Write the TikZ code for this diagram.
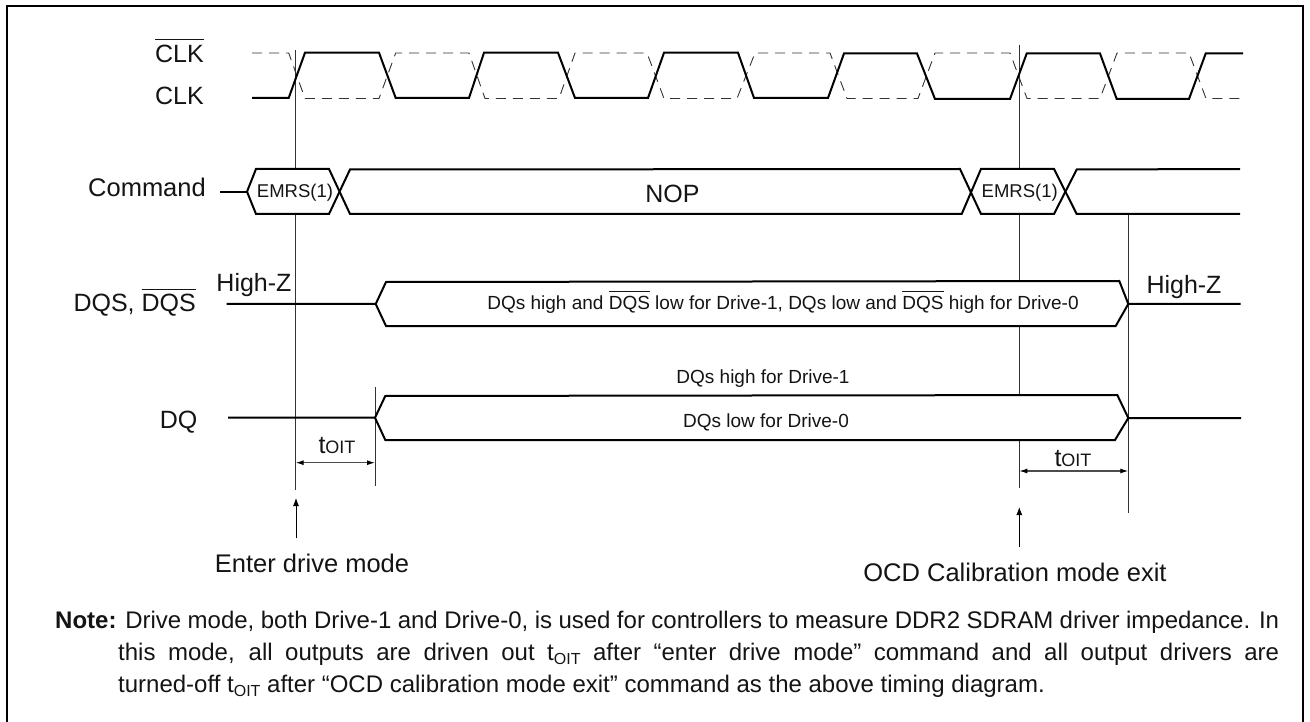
\documentclass[tikz,border=0pt]{standalone}
\usepackage{fontspec}
\setmainfont{Liberation Sans}
\usetikzlibrary{arrows.meta}
\definecolor{txt}{RGB}{20,20,20}
\newcommand{\obar}[2]{\leavevmode\vbox{\hrule height 0.8pt \kern #1 \hbox{#2}}}
\tikzset{
  x=1pt,y=-1pt,
  sig/.style={line width=2pt,black,line join=miter},
  inv/.style={line width=0.9pt,black!80,dash pattern=on 10pt off 7pt},
  guide/.style={line width=0.9pt,black!80},
  dim/.style={line width=1.1pt,black!70,{Latex[length=8pt,width=5pt,black]}-{Latex[length=8pt,width=5pt,black]}},
  lbl/.style={inner sep=0pt,text=txt,font=\fontsize{25}{28}\selectfont,anchor=base},
  bigl/.style={inner sep=0pt,text=txt,font=\fontsize{25.5}{28}\selectfont,anchor=base},
  small/.style={inner sep=0pt,text=txt,font=\fontsize{18.5}{22}\selectfont,anchor=base},
  mid/.style={inner sep=0pt,text=txt,font=\fontsize{19}{22}\selectfont,anchor=base},
}
\begin{document}
\begin{tikzpicture}
\useasboundingbox (0,0) rectangle (1310,722);
\begin{scope}
\clip (0,0) rectangle (1310,722);
\draw[line width=2pt] (6.5,6.5) rectangle (1303,740);
\end{scope}
% guides
\coordinate (g1t) at (295.7,50); \coordinate (g1b) at (295.7,490);
\coordinate (g2t) at (1019.3,45); \coordinate (g2b) at (1019.3,488);
\coordinate (g3t) at (1128.3,214); \coordinate (g3b) at (1128.3,513);
\coordinate (g4t) at (375,387); \coordinate (g4b) at (375,486);
\draw[guide] (g1t)--(g1b); \draw[guide] (g2t)--(g2b); \draw[guide] (g3t)--(g3b); \draw[guide] (g4t)--(g4b);
% clock
\draw[inv] (252,53) -- (288.7,53) -- (305,98.5) -- (379,98.5) -- (395.7,53) -- (469,53) -- (485,98.5) -- (559,98.5) -- (575,53) -- (647,53) -- (664,98.5) -- (737,98.5) -- (755,53) -- (830,53) -- (847,98.5) -- (918,98.5) -- (935,53) -- (1010,53) -- (1027,98.5) -- (1100,98.5) -- (1117,53) -- (1189,53) -- (1206,98.5) -- (1241,98.5);
\draw[sig] (252,98) -- (288.7,98) -- (305,52.7) -- (379,52.7) -- (395.7,98) -- (469,98) -- (484,52.7) -- (558,52.7) -- (575,98) -- (648,98) -- (664,52.7) -- (738,52.7) -- (754,98) -- (828,98) -- (844,53.5) -- (917,53.5) -- (935,99) -- (1010,99) -- (1026.7,53.5) -- (1100,53.5) -- (1116.7,99) -- (1189,99) -- (1205.7,53.5) -- (1243,53.5);
% command
\fill[white] (247,191.7) -- (256,169) -- (329,169) -- (339,191.7) -- (329,214) -- (256,214) -- cycle;
\fill[white] (971,191.7) -- (981,169) -- (1054,169) -- (1065,191.7) -- (1054,214) -- (981,214) -- cycle;
\draw[sig] (220,191.7) -- (247,191.7);
\node[small] (em1) at (295,197.3) {EMRS(1)};
\node[small] (em2) at (1019.7,197.3) {EMRS(1)};
\node[lbl] (nop) at (672.4,202.7) {NOP};
\draw[sig] (247,191.7) -- (256,169) -- (329,169) -- (350,214) -- (961.7,214) -- (981,169) -- (1054,169) -- (1076.7,214) -- (1240,214);
\draw[sig] (247,191.7) -- (256,214) -- (329,214) -- (350,169.5) -- (960,169) -- (981,214) -- (1054,214) -- (1076.7,169.5) -- (1240,169);
% DQS
\fill[white] (375.7,304) -- (386,282) -- (1119.3,281) -- (1128.3,304) -- (1115.7,326) -- (386,326) -- cycle;
\fill[white] (375,418) -- (385.3,396) -- (1117.3,395) -- (1128.3,418) -- (1115,440) -- (385.3,440) -- cycle;
\draw[sig] (226.7,304) -- (375.7,304) -- (386,282) -- (1119.3,281) -- (1128.3,304) -- (1240.7,304);
\draw[sig] (375.7,304) -- (386,326) -- (1115.7,326) -- (1128.3,304);
\draw[sig] (228,417.7) -- (375,417.7) -- (385.3,396) -- (1117.3,395) -- (1128.3,418) -- (1241,418);
\draw[sig] (375,417.7) -- (385.3,440) -- (1115,440) -- (1128.3,418);
% labels
\node[lbl] (clkb) at (179.5,62.3) {\obar{5pt}{CLK}};
\node[lbl] (clk) at (179.5,105) {CLK};
\node[bigl,anchor=base east] (cmd) at (206,196.7) {Command};
\node[lbl,anchor=base east] (dqs) at (196,311.7) {DQS, \obar{4.5pt}{DQS}};
\node[lbl] (dq) at (178.5,428) {DQ};
\node[lbl] (hz1) at (254,291) {High-Z};
\node[lbl] (hz2) at (1184,293.3) {High-Z};
\node[mid] (t1) at (783,309) {DQs high and \obar{4pt}{DQS} low for Drive-1, DQs low and \obar{4pt}{DQS} high for Drive-0};
\node[mid] (t2) at (763,383) {DQs high for Drive-1};
\node[mid] (t3) at (766,427.7) {DQs low for Drive-0};
\node[lbl] (to1) at (337,453) {t{\fontsize{18}{20}\selectfont OIT}};
\node[lbl] (to2) at (1073,466) {t{\fontsize{18}{20}\selectfont OIT}};
\draw[dim] (g1t |- 0,462.7) coordinate (d1a) -- (g4t |- 0,462.7) coordinate (d1b);
\draw[dim] (g2t |- 0,471) coordinate (d2a) -- (g3t |- 0,471) coordinate (d2b);
\coordinate (a1s) at (296,538); \coordinate (a1e) at (296,498);
\coordinate (a2s) at (1019.3,547); \coordinate (a2e) at (1019.3,507);
\draw[line width=0.9pt,black,-{Latex[length=8pt,width=6pt]}] (a1s) -- (a1e);
\draw[line width=0.9pt,black,-{Latex[length=8pt,width=6pt]}] (a2s) -- (a2e);
\node[bigl] (ent) at (312,572) {Enter drive mode};
\node[bigl] (ocd) at (1015,581) {OCD Calibration mode exit};
\node[inner sep=0pt,anchor=north west,text width=1224pt,text=txt,font=\fontsize{24}{32}\selectfont,align=justify] (note) at (55,611) {\hangindent=63pt\hangafter=1 \textbf{Note:} Drive mode, both Drive-1 and Drive-0, is used for controllers to measure DDR2 SDRAM driver impedance. In\linebreak this mode, all outputs are driven out t\raisebox{-4pt}{\fontsize{16}{18}\selectfont OIT} after “enter drive mode” command and all output drivers are\linebreak turned-off t\raisebox{-4pt}{\fontsize{16}{18}\selectfont OIT} after “OCD calibration mode exit” command as the above timing diagram.\par};
\end{tikzpicture}
\end{document}
